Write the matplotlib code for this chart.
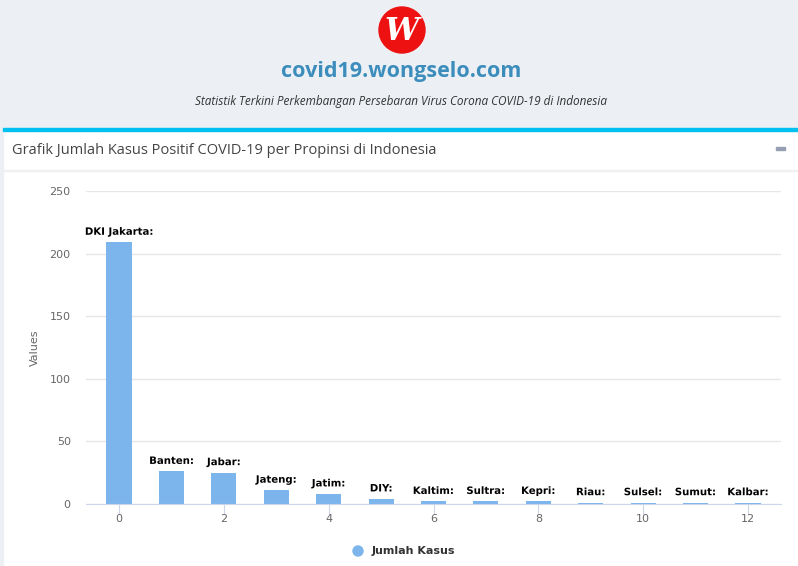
import matplotlib.pyplot as plt
import matplotlib.patheffects as pe
from matplotlib.patches import Circle, Rectangle

# data
provinces = ['DKI Jakarta', 'Banten', 'Jabar', 'Jateng', 'Jatim', 'DIY', 'Kaltim',
             'Sultra', 'Kepri', 'Riau', 'Sulsel', 'Sumut', 'Kalbar']
cases = [209, 26, 25, 11, 8, 4, 2, 2, 2, 1, 1, 1, 1]
y_ticks = [0, 50, 100, 150, 200, 250]
x_ticks = [0, 2, 4, 6, 8, 10, 12]

W, H = 798, 566
fig = plt.figure(figsize=(W / 100, H / 100), dpi=100)

# --- page background (pixel coordinates) ---
bg = fig.add_axes([0, 0, 1, 1], zorder=0)
bg.set_xlim(0, W)
bg.set_ylim(H, 0)
bg.axis('off')
bg.add_patch(Rectangle((0, 0), W, 130, color='#ecf0f5'))
bg.add_patch(Rectangle((0, 130), 3, H - 130, color='#ecf0f5'))
bg.add_patch(Rectangle((3, 128), W, 3, color='#00c0ef'))
bg.add_patch(Rectangle((3, 170), W, 1, color='#f0f0f0'))
bg.add_patch(Circle((402, 30), 23, color='#ee1111'))
bg.text(402, 31, 'W', color='white', fontsize=22, fontstyle='italic', fontweight='bold',
        family='DejaVu Serif', ha='center', va='center')
bg.text(401, 71, 'covid19.wongselo.com', color='#3c8dbc', fontsize=15.5, fontweight='bold',
        family='Open Sans', ha='center', va='center')
bg.text(401, 101, 'Statistik Terkini Perkembangan Persebaran Virus Corona COVID-19 di Indonesia',
        color='#333333', fontsize=8.5, fontstyle='italic', family='Open Sans',
        ha='center', va='center')
bg.text(12, 151, 'Grafik Jumlah Kasus Positif COVID-19 per Propinsi di Indonesia',
        color='#444444', fontsize=10.5, family='Open Sans', ha='left', va='center')
# collapse button
bg.add_patch(Rectangle((776, 147), 9, 2.5, color='#97a0b3'))

# --- chart ---
ax = fig.add_axes([86 / W, (H - 504) / H, (781 - 86) / W, (504 - 191) / H], zorder=1)
ax.patch.set_alpha(0)
x = list(range(len(cases)))
ax.bar(x, cases, width=0.48, color='#7cb5ec', zorder=2)

for xi, name, v in zip(x, provinces, cases):
    ax.annotate(name + ':', (xi, v), xytext=(0, 4), textcoords='offset points',
                ha='center', va='bottom', fontsize=7.3, fontweight='bold', color='black',
                path_effects=[pe.withStroke(linewidth=2, foreground='white')])

ax.set_xlim(-0.63, 12.63)
ax.set_ylim(0, 250)
ax.set_yticks(y_ticks)
ax.set_xticks(x_ticks)
ax.grid(axis='y', color='#e6e6e6', linewidth=1)
ax.set_axisbelow(True)
for s in ['top', 'right', 'left']:
    ax.spines[s].set_visible(False)
ax.spines['bottom'].set_color('#ccd6eb')
ax.tick_params(axis='y', length=0, pad=11, labelsize=8, labelcolor='#666666')
ax.tick_params(axis='x', length=7, color='#ccd6eb', pad=0, labelsize=8, labelcolor='#666666')
ax.set_ylabel('Values', fontsize=8, color='#666666', labelpad=7)

# legend
bg.add_patch(Circle((358, 551), 5, color='#7cb5ec'))
bg.text(372, 551, 'Jumlah Kasus', fontsize=8, fontweight='bold', color='#333333',
        ha='left', va='center')

fig.savefig('out.png', dpi=100)
